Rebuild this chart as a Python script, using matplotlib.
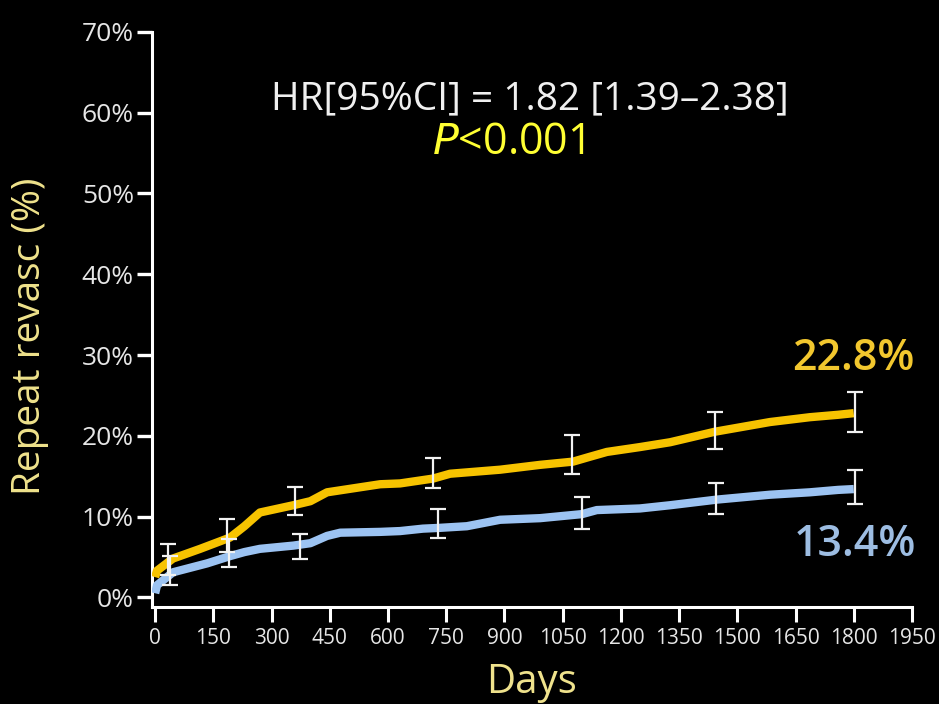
import matplotlib.pyplot as plt
import numpy as np

plt.rcParams['font.family'] = ['Open Sans', 'DejaVu Sans']

# Cumulative incidence curves (days, %)
days_gold = [0, 5, 46, 116, 193, 230, 270, 356, 400, 443, 580, 631, 716, 760, 889,
             992, 1077, 1120, 1164, 1249, 1327, 1442, 1584, 1687, 1760, 1800]
rate_gold = [2.5, 3.3, 4.8, 6.0, 7.4, 8.8, 10.5, 11.4, 11.9, 13.0, 14.0, 14.1, 14.7, 15.3, 15.8,
             16.4, 16.8, 17.4, 18.0, 18.6, 19.2, 20.5, 21.7, 22.3, 22.6, 22.8]

days_blue = [0, 5, 46, 134, 193, 230, 270, 356, 400, 443, 477, 580, 631, 690, 734, 803,
             889, 992, 1100, 1138, 1249, 1327, 1448, 1584, 1687, 1760, 1800]
rate_blue = [0.5, 1.5, 3.1, 4.2, 5.1, 5.6, 6.0, 6.4, 6.7, 7.6, 8.0, 8.1, 8.2, 8.5, 8.6, 8.8,
             9.6, 9.8, 10.3, 10.8, 11.0, 11.4, 12.1, 12.7, 13.0, 13.3, 13.4]

# 95% confidence intervals at selected time points
ci_days_gold = [33, 186, 361, 717, 1075, 1442, 1803]
ci_lo_gold = [2.8, 5.6, 10.2, 13.5, 15.3, 18.4, 20.5]
ci_hi_gold = [6.6, 9.7, 13.7, 17.3, 20.1, 23.0, 25.4]

ci_days_blue = [38, 190, 373, 730, 1100, 1445, 1803]
ci_lo_blue = [1.5, 3.7, 4.7, 7.4, 8.5, 10.3, 11.5]
ci_hi_blue = [5.1, 7.2, 7.8, 10.9, 12.4, 14.1, 15.8]

x_ticks = list(range(0, 1951, 150))
y_ticks = list(range(0, 71, 10))

gold = '#f7c300'
blue = '#9cc3f2'

fig = plt.figure(figsize=(9.39, 7.04), dpi=100, facecolor='black')
ax = fig.add_axes([0.1619, 0.1378, 0.8093, 0.8168], facecolor='black')

ax.plot(days_blue, rate_blue, color=blue, lw=6, solid_capstyle='butt', zorder=3)
ax.plot(days_gold, rate_gold, color=gold, lw=6, solid_capstyle='butt', zorder=3)

for d, lo, hi in [(ci_days_gold, ci_lo_gold, ci_hi_gold),
                  (ci_days_blue, ci_lo_blue, ci_hi_blue)]:
    lo = np.array(lo)
    hi = np.array(hi)
    mid = (lo + hi) / 2
    ax.errorbar(d, mid, yerr=(hi - lo) / 2, fmt='none', ecolor='#f2f2f2',
                elinewidth=1.6, capsize=6, capthick=1.6, zorder=4)

ax.set_xlim(-8, 1950)
ax.set_ylim(-1.2, 70)
ax.set_xticks(x_ticks)
ax.set_yticks(y_ticks)
ax.set_yticklabels([f'{v}%' for v in y_ticks])

for side in ['top', 'right']:
    ax.spines[side].set_visible(False)
for side in ['left', 'bottom']:
    ax.spines[side].set_color('white')
    ax.spines[side].set_linewidth(2.2)

ax.tick_params(axis='y', colors='white', length=11, width=2.4, labelsize=19,
               labelcolor='#e6e6e6', pad=2)
ax.tick_params(axis='x', colors='white', length=11, width=2.2, labelsize=15,
               labelcolor='#e6e6e6', pad=4)

ax.set_ylabel('Repeat revasc (%)', color='#efe28c', fontsize=28, fontweight='medium')
ax.yaxis.set_label_coords(-0.135, 0.47)
ax.set_xlabel('Days', color='#efe28c', fontsize=29, fontweight='medium')
ax.xaxis.set_label_coords(0.5, -0.097)

ax.text(966, 61.6, 'HR[95%CI] = 1.82 [1.39\u20132.38]', color='#f0f0f0',
        fontsize=28, ha='center', va='center')
ax.text(910, 56.3, '$\\mathit{P}$<0.001', color='#ffff33', fontsize=31,
        ha='center', va='center')

ax.text(1800, 29.6, f'{rate_gold[-1]}%', color='#f2c72e', fontsize=31,
        fontweight='semibold', ha='center', va='center')
ax.text(1803, 6.5, f'{rate_blue[-1]}%', color='#9dbde2', fontsize=31,
        fontweight='semibold', ha='center', va='center')

fig.savefig('out.png', dpi=100, facecolor='black')
